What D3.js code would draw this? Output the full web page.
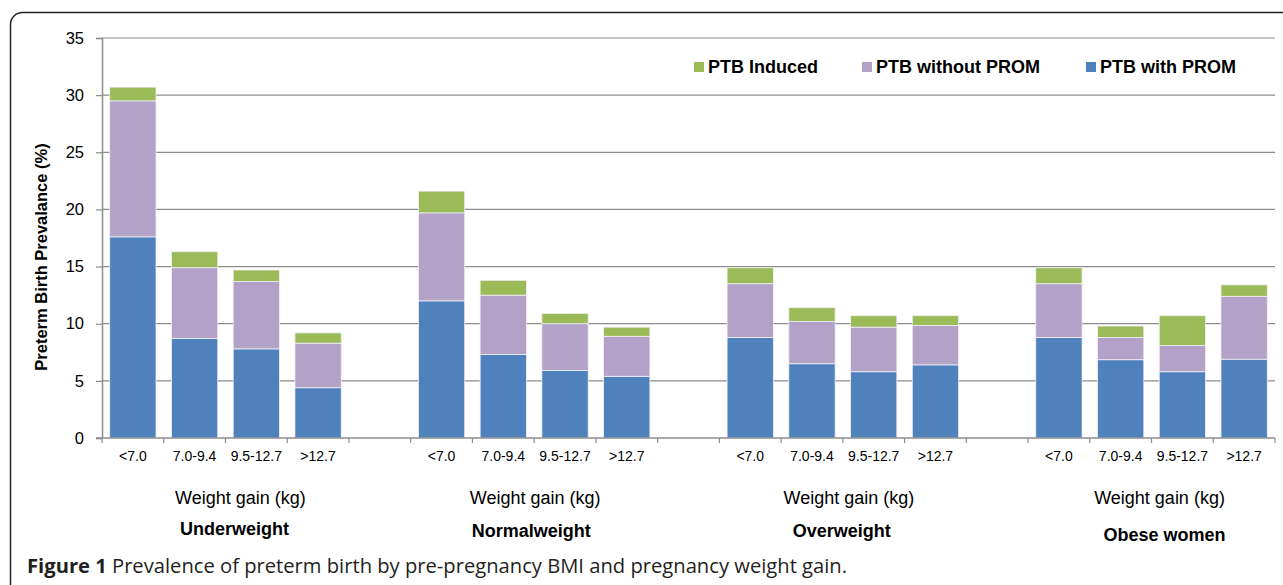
<!DOCTYPE html>
<html>
<head>
<meta charset="utf-8">
<script src="https://cdn.jsdelivr.net/npm/d3@7"></script>
<style>
  body { margin: 0; background: #fff; }
  text { font-family: "Liberation Sans", Arial, sans-serif; fill: #000; }
</style>
</head>
<body>
<div id="chart"></div>
<script>
// data
var groups = ["Underweight", "Normalweight", "Overweight", "Obese women"];
var gainBins = ["<7.0", "7.0-9.4", "9.5-12.7", ">12.7"];
var withProm    = [17.6, 8.7, 7.8, 4.4, 12.0, 7.3, 5.9, 5.4, 8.8, 6.5, 5.8, 6.4, 8.8, 6.85, 5.8, 6.9];
var withoutProm = [11.9, 6.2, 5.9, 3.9, 7.7, 5.2, 4.1, 3.5, 4.7, 3.7, 3.9, 3.45, 4.7, 1.95, 2.3, 5.5];
var induced     = [1.2, 1.4, 1.0, 0.9, 1.9, 1.3, 0.9, 0.8, 1.4, 1.2, 1.0, 0.85, 1.4, 1.0, 2.6, 1.0];
var yTicks = [0, 5, 10, 15, 20, 25, 30, 35];
var seriesKeys = ["withProm", "withoutProm", "induced"];
var seriesNames = {withProm: "PTB with PROM", withoutProm: "PTB without PROM", induced: "PTB Induced"};
var colors = {withProm: "#4f81bd", withoutProm: "#b2a2c7", induced: "#9bbb59"};

var W = 1283, H = 585;
var plot = { left: 102, right: 1275, top: 38, bottom: 438 };

var svg = d3.select("#chart")
  .append("svg")
  .attr("width", W)
  .attr("height", H);

// outer frame
svg.append("rect")
  .attr("x", 10.5).attr("y", 12.5)
  .attr("width", 1320).attr("height", 640)
  .attr("rx", 12)
  .attr("fill", "none")
  .attr("stroke", "#222")
  .attr("stroke-width", 1.5);

// slots: 4 bins per group, empty slot between groups
var rows = [];
var slots = [];
groups.forEach(function (g, gi) {
  gainBins.forEach(function (b, bi) {
    var i = gi * gainBins.length + bi;
    var key = g + "|" + b;
    slots.push(key);
    rows.push({ key: key, bin: b, group: g, withProm: withProm[i], withoutProm: withoutProm[i], induced: induced[i] });
  });
  if (gi < groups.length - 1) slots.push("gap" + gi);
});

var x = d3.scaleBand()
  .domain(slots)
  .range([plot.left, plot.right])
  .paddingInner(0.25)
  .paddingOuter(0.125);

var y = d3.scaleLinear()
  .domain([0, 35])
  .range([plot.bottom, plot.top]);

// gridlines
svg.append("g")
  .selectAll("line")
  .data(yTicks.filter(function (d) { return d > 0; }))
  .enter()
  .append("line")
  .attr("x1", plot.left).attr("x2", plot.right)
  .attr("y1", function (d) { return y(d); })
  .attr("y2", function (d) { return y(d); })
  .attr("stroke", "#8c8c8c")
  .attr("stroke-width", 1.2);

// y axis
var yAxis = svg.append("g")
  .attr("transform", "translate(" + plot.left + ",0)")
  .call(d3.axisLeft(y).tickValues(yTicks).tickSize(6).tickPadding(12).tickFormat(d3.format("d")));
yAxis.select(".domain").attr("stroke", "#8c8c8c").attr("stroke-width", 1.5);
yAxis.selectAll(".tick line").attr("stroke", "#8c8c8c").attr("stroke-width", 1.2);
yAxis.selectAll(".tick text")
  .style("font-family", "Liberation Sans, Arial, sans-serif")
  .style("font-size", "16.5px")
  .attr("fill", "#000");

// bars
var stack = d3.stack().keys(seriesKeys);
var stacked = stack(rows);

svg.append("g")
  .selectAll("g")
  .data(stacked)
  .enter()
  .append("g")
  .attr("fill", function (d) { return colors[d.key]; })
  .selectAll("rect")
  .data(function (d) { return d; })
  .enter()
  .append("rect")
  .attr("x", function (d) { return x(d.data.key); })
  .attr("width", x.bandwidth())
  .attr("y", function (d) { return y(d[1]); })
  .attr("height", function (d) { return y(d[0]) - y(d[1]); })
  .attr("stroke", "#f2f0f7")
  .attr("stroke-width", 0.8);

// x axis: line + ticks at slot boundaries
var step = x.step();
var boundaries = d3.range(slots.length + 1).map(function (i) { return plot.left + i * step; });
var xAxis = svg.append("g");
xAxis.append("line")
  .attr("x1", plot.left - 6).attr("x2", plot.right)
  .attr("y1", plot.bottom).attr("y2", plot.bottom)
  .attr("stroke", "#8c8c8c")
  .attr("stroke-width", 1.5);
xAxis.selectAll(".xt")
  .data(boundaries)
  .enter()
  .append("line")
  .attr("class", "xt")
  .attr("x1", function (d) { return d; }).attr("x2", function (d) { return d; })
  .attr("y1", plot.bottom).attr("y2", plot.bottom + 5)
  .attr("stroke", "#8c8c8c")
  .attr("stroke-width", 1.2);

// bin labels
svg.append("g")
  .selectAll("text")
  .data(rows)
  .enter()
  .append("text")
  .attr("x", function (d) { return x(d.key) + x.bandwidth() / 2; })
  .attr("y", 461)
  .attr("text-anchor", "middle")
  .style("font-size", "14px")
  .text(function (d) { return d.bin; });

// group captions
var groupCenter = function (g) {
  var first = x(g + "|" + gainBins[0]);
  var last = x(g + "|" + gainBins[gainBins.length - 1]) + x.bandwidth();
  return (first + last) / 2;
};
var subOffset = [15, 1, 6, 8];
var nameOffset = [9, -3, -1, 13];
var nameY = [535, 537, 537, 541];

svg.append("g")
  .selectAll("text")
  .data(groups)
  .enter()
  .append("text")
  .attr("x", function (d, i) { return groupCenter(d) + subOffset[i]; })
  .attr("y", 504)
  .attr("text-anchor", "middle")
  .style("font-size", "18px")
  .text("Weight gain (kg)");

svg.append("g")
  .selectAll("text")
  .data(groups)
  .enter()
  .append("text")
  .attr("x", function (d, i) { return groupCenter(d) + nameOffset[i]; })
  .attr("y", function (d, i) { return nameY[i]; })
  .attr("text-anchor", "middle")
  .style("font-size", "18px")
  .style("font-weight", "bold")
  .text(function (d) { return d; });

// y axis title
svg.append("text")
  .attr("transform", "translate(47,257) rotate(-90)")
  .attr("text-anchor", "middle")
  .style("font-size", "16.5px")
  .style("font-weight", "bold")
  .text("Preterm Birth Prevalance (%)");

// legend (reverse stack order)
var legendX = [694, 862, 1086];
var legend = svg.append("g")
  .selectAll("g")
  .data(seriesKeys.slice().reverse())
  .enter()
  .append("g")
  .attr("transform", function (d, i) { return "translate(" + legendX[i] + ",62)"; });
legend.append("rect")
  .attr("width", 10).attr("height", 10)
  .attr("fill", function (d) { return colors[d]; });
legend.append("text")
  .attr("x", 14).attr("y", 11)
  .style("font-size", "18px")
  .style("font-weight", "bold")
  .text(function (d) { return seriesNames[d]; });

// figure caption
var cap = svg.append("text")
  .attr("x", 27).attr("y", 573)
  .attr("textLength", 820)
  .attr("lengthAdjust", "spacingAndGlyphs")
  .style("font-family", "Open Sans, Noto Sans, sans-serif")
  .style("font-size", "20px")
  .attr("fill", "#231f20");
cap.append("tspan").style("font-weight", "bold").attr("fill", "#231f20").text("Figure 1");
cap.append("tspan").attr("fill", "#231f20").text(" Prevalence of preterm birth by pre-pregnancy BMI and pregnancy weight gain.");
</script>
</body>
</html>
